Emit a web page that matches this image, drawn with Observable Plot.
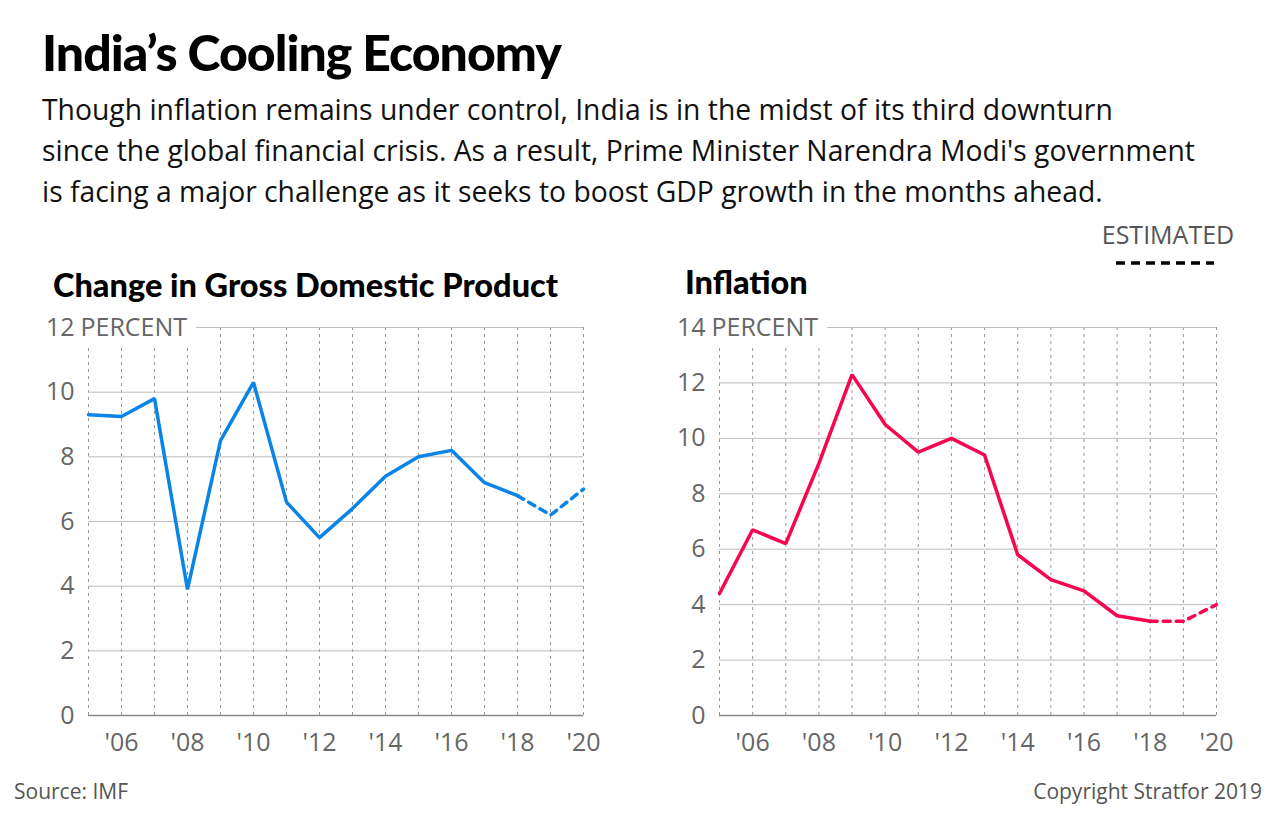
<!DOCTYPE html>
<html>
<head>
<meta charset="utf-8">
<script src="https://cdn.jsdelivr.net/npm/d3@7"></script>
<script src="https://cdn.jsdelivr.net/npm/@observablehq/plot@0.6"></script>
<style>
  body { margin: 0; background: #fff; }
  #wrap { position: relative; width: 1280px; height: 824px; overflow: hidden; font-family: Lato, "Open Sans", sans-serif; background: #fff; }
  #title { position: absolute; left: 42px; top: 27px; font-size: 50px; font-weight: 900; color: #000; line-height: 1; white-space: nowrap; letter-spacing: -1px; }
  #subtitle { position: absolute; left: 42px; top: 89px; font-family: "Open Sans", sans-serif; font-size: 28.3px; line-height: 41px; color: #111; white-space: nowrap; }
  .ctitle { position: absolute; font-size: 32.5px; font-weight: 900; color: #000; line-height: 1; white-space: nowrap; }
  #legend { position: absolute; left: 1088px; top: 222px; width: 160px; text-align: center; font-family: "Open Sans", sans-serif; font-size: 25px; color: #555; line-height: 1; }
  #legend svg { display: block; margin: 13px 0 0 28px; }
  .chart { position: absolute; top: 300px; }
  .foot { position: absolute; top: 777px; font-family: "Open Sans", sans-serif; font-size: 21px; color: #555; white-space: nowrap; }
</style>
</head>
<body>
<div id="wrap">
  <div id="title">India’s Cooling Economy</div>
  <div id="subtitle">Though inflation remains under control, India is in the midst of its third downturn<br>since the global financial crisis. As a result, Prime Minister Narendra Modi's government<br>is facing a major challenge as it seeks to boost GDP growth in the months ahead.</div>
  <div id="legend">ESTIMATED<svg width="98" height="6"><line x1="0" y1="3" x2="98" y2="3" stroke="#000" stroke-width="3.5" stroke-dasharray="9,6"></line></svg></div>
  <div class="ctitle" style="left:53px; top:269px;">Change in Gross Domestic Product</div>
  <div class="ctitle" style="left:685px; top:266px;">Inflation</div>
  <div class="chart" id="left" style="left:0px;"></div>
  <div class="chart" id="right" style="left:640px;"></div>
  <div class="foot" style="left:14px;">Source: IMF</div>
  <div class="foot" style="right:18px;">Copyright Stratfor 2019</div>
</div>
<script>
const years = [2005, 2006, 2007, 2008, 2009, 2010, 2011, 2012, 2013, 2014, 2015, 2016, 2017, 2018, 2019, 2020];
const gdpGrowth = [9.3, 9.25, 9.8, 3.9, 8.5, 10.3, 6.6, 5.5, 6.4, 7.4, 8.0, 8.2, 7.2, 6.8, 6.2, 7.0];
const inflationRate = [4.4, 6.7, 6.2, 9.1, 12.3, 10.5, 9.5, 10.0, 9.4, 5.8, 4.9, 4.5, 3.6, 3.4, 3.4, 4.0];
const lastActualYear = 2018;
const gdpTicks = [0, 2, 4, 6, 8, 10, 12];
const inflationTicks = [0, 2, 4, 6, 8, 10, 12, 14];
const xTickYears = [2006, 2008, 2010, 2012, 2014, 2016, 2018, 2020];
const unitLabel = "PERCENT";

function chart(values, color, yTicks, marginLeft, marginRight) {
  const data = years.map((y, i) => ({year: y, value: values[i]}));
  const top = yTicks[yTicks.length - 1];
  const tickFont = {fontFamily: "'Open Sans', sans-serif", fontSize: 25, fill: "#666"};
  return Plot.plot({
    width: 640,
    height: 470,
    marginLeft,
    marginRight,
    marginTop: 27,
    marginBottom: 55,
    style: {background: "transparent", overflow: "visible"},
    x: {domain: [2005, 2020], label: null},
    y: {domain: [0, top], label: null, axis: null},
    marks: [
      Plot.ruleX(years, {stroke: "#999", strokeWidth: 1, strokeDasharray: "3,4"}),
      Plot.ruleY(yTicks.filter(d => d > 0), {stroke: "#bbb", strokeWidth: 1}),
      Plot.ruleY([0], {stroke: "#888", strokeWidth: 1.5}),
      // white halos behind the top label
      Plot.text([top], {frameAnchor: "left", y: d => d, text: () => unitLabel, textAnchor: "start", dx: -8, ...tickFont, fill: "white", stroke: "white", strokeWidth: 24}),
      Plot.text([top], {frameAnchor: "left", y: d => d, text: d => String(d), textAnchor: "end", dx: -14, ...tickFont, fill: "white", stroke: "white", strokeWidth: 24}),
      Plot.text([top], {frameAnchor: "left", y: d => d, text: () => unitLabel, textAnchor: "start", dx: -8, ...tickFont}),
      Plot.text(yTicks, {frameAnchor: "left", y: d => d, text: d => String(d), textAnchor: "end", dx: -14, ...tickFont}),
      Plot.axisX({ticks: xTickYears, tickFormat: d => "'" + String(d).slice(2), tickSize: 0, tickPadding: 18, ...tickFont, label: null}),
      Plot.line(data.filter(d => d.year <= lastActualYear), {x: "year", y: "value", stroke: color, strokeWidth: 3.5, strokeLinejoin: "miter"}),
      Plot.line(data.filter(d => d.year >= lastActualYear), {x: "year", y: "value", stroke: color, strokeWidth: 3.5, strokeDasharray: "7,6"})
    ]
  });
}

document.getElementById("left").append(chart(gdpGrowth, "#0a84e6", gdpTicks, 88, 57));
document.getElementById("right").append(chart(inflationRate, "#f7064f", inflationTicks, 79, 64));
</script>
</body>
</html>
